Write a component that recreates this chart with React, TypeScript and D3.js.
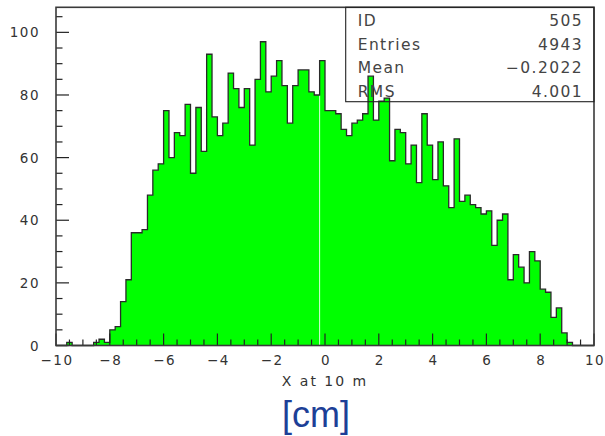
import React from "react";
import * as d3 from "d3";

const xDomain: [number, number] = [-10, 10];
const yDomain: [number, number] = [0, 108];
const counts: number[] = [
  0, 0, 1, 0, 0, 0, 0, 1, 2, 1,
  5, 6, 14, 21, 36, 36, 37, 48, 56, 58,
  75, 60, 68, 67, 77, 55, 76, 62, 93, 73,
  67, 71, 87, 82, 76, 82, 64, 85, 97, 81,
  86, 91, 83, 71, 83, 88, 88, 81, 80, 91,
  75, 75, 74, 69, 67, 71, 72, 74, 86, 72,
  78, 79, 59, 69, 68, 58, 64, 52, 74, 64,
  53, 65, 51, 44, 66, 46, 48, 45, 44, 42,
  43, 32, 40, 42, 21, 29, 25, 20, 30, 27,
  18, 17, 9, 12, 4, 1, 0, 0, 0, 0,
];
const xTickValues = [-10, -8, -6, -4, -2, 0, 2, 4, 6, 8, 10];
const yTickValues = [0, 20, 40, 60, 80, 100];
const statLabels = ["ID", "Entries", "Mean", "RMS"];
const statValues = ["505", "4943", "\u22120.2022", "4.001"];
const xTitle = "X at 10 m";
const unitLabel = "[cm]";
const artifactEdge = -0.2;

const fmt = (v: number) => (v < 0 ? "\u2212" + Math.abs(v) : String(v));

export default function App() {
  const W = 605, H = 436;
  const x = d3.scaleLinear().domain(xDomain).range([56, 594]);
  const y = d3.scaleLinear().domain(yDomain).range([345.5, 7.3]);
  const n = counts.length;
  const bw = (xDomain[1] - xDomain[0]) / n;
  const edges = d3.range(n + 1).map((i) => xDomain[0] + i * bw);

  const pts: [number, number][] = [[x(edges[0]), y(0)]];
  counts.forEach((c, i) => {
    pts.push([x(edges[i]), y(c)]);
    pts.push([x(edges[i + 1]), y(c)]);
  });
  pts.push([x(edges[n]), y(0)]);
  const line = d3.line();
  const outline = line(pts) as string;
  const fillPath = outline + "Z";

  const xMinor = d3.range(xDomain[0], xDomain[1] + 0.001, 0.5);
  const yMinor = d3.range(0, yDomain[1], 5);

  const ai = Math.round((artifactEdge - xDomain[0]) / bw);
  const artTop = Math.min(counts[ai - 1], counts[ai]);

  const font = "'DejaVu Sans', sans-serif";
  const ink = "#333";
  const boxLeft = 345.7, boxBottom = 101.7;

  return (
    <svg width={W} height={H} style={{ position: "absolute", left: 0, top: 0, background: "#fff" }}>
      <rect x={0} y={0} width={W} height={H} fill="#fff" />
      <path d={fillPath} fill="#00ff00" stroke="none" />
      <line x1={x(artifactEdge)} x2={x(artifactEdge)} y1={y(0)} y2={y(artTop)} stroke="#d8ffd8" strokeWidth={1} />
      <path d={outline} fill="none" stroke="#2a2a2a" strokeWidth={1.3} />
      {xMinor.map((v, i) => {
        const major = xTickValues.some((t) => Math.abs(t - v) < 1e-6);
        return (
          <line key={"xm" + i} x1={x(v)} x2={x(v)} y1={y(0)} y2={y(0) - (major ? 12 : 6)} stroke="#222" strokeWidth={1.2} />
        );
      })}
      {yMinor.map((v, i) => {
        const major = yTickValues.includes(v);
        return (
          <line key={"ym" + i} x1={x(xDomain[0])} x2={x(xDomain[0]) + (major ? 13 : 6.5)} y1={y(v)} y2={y(v)} stroke="#222" strokeWidth={1.2} />
        );
      })}
      <rect x={x(xDomain[0])} y={y(yDomain[1])} width={x(xDomain[1]) - x(xDomain[0])} height={y(0) - y(yDomain[1])} fill="none" stroke="#3a3a3a" strokeWidth={1.6} />
      <rect x={boxLeft} y={y(yDomain[1])} width={x(xDomain[1]) - boxLeft} height={boxBottom - y(yDomain[1])} fill="none" stroke="#222" strokeWidth={1.1} />
      {statLabels.map((s, i) => (
        <text key={"sl" + i} x={boxLeft + 12} y={26 + i * 23.5} fontFamily={font} fontSize={15.5} fill="#444" letterSpacing={1.4}>{s}</text>
      ))}
      {statValues.map((s, i) => (
        <text key={"sv" + i} x={583} y={26 + i * 23.5} fontFamily={font} fontSize={15.5} fill="#444" textAnchor="end" letterSpacing={1.4}>{s}</text>
      ))}
      {xTickValues.map((v) => (
        <text key={"xt" + v} x={x(v) + 1} y={365} fontFamily={font} fontSize={13.5} fill={ink} textAnchor="middle" letterSpacing={1.5}>{fmt(v)}</text>
      ))}
      {yTickValues.map((v) => (
        <text key={"yt" + v} x={40} y={y(v) + 5} fontFamily={font} fontSize={13.5} fill={ink} textAnchor="end" letterSpacing={1.5}>{fmt(v)}</text>
      ))}
      <text x={325} y={386} fontFamily={font} fontSize={14} fill={ink} textAnchor="middle" letterSpacing={2}>{xTitle}</text>
      <text x={316} y={427} fontFamily="'Liberation Sans', Arial, sans-serif" fontSize={36} fill="#1d3f97" textAnchor="middle">{unitLabel}</text>
    </svg>
  );
}
